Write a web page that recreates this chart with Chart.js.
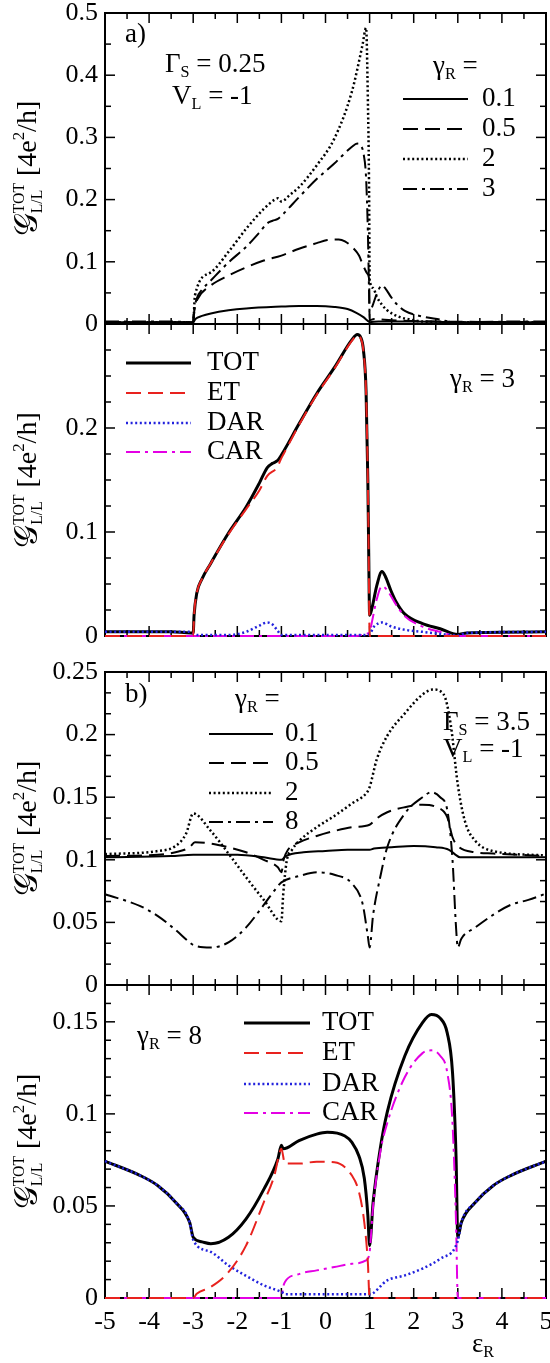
<!DOCTYPE html>
<html><head><meta charset="utf-8">
<script src="https://cdn.jsdelivr.net/npm/chart.js@4.4.1/dist/chart.umd.min.js"></script>
<style>
html,body{margin:0;padding:0;background:#fff;width:550px;height:1363px;overflow:hidden;position:relative}
canvas{position:absolute;left:0}
</style></head><body>
<canvas id="c1" width="550" height="345" style="top:0px"></canvas>
<canvas id="c2" width="550" height="336" style="top:314px"></canvas>
<canvas id="c3" width="550" height="345" style="top:655px"></canvas>
<canvas id="c4" width="550" height="388" style="top:975px"></canvas>
<script>
// ---------- tick labels ----------
const X_TICKS = [-5,-4,-3,-2,-1,0,1,2,3,4,5];
const A_YTICKS = [0,0.1,0.2,0.3,0.4,0.5];
const A2_YTICKS = [0,0.1,0.2];
const B_YTICKS = [0,0.05,0.1,0.15,0.2,0.25];
const B2_YTICKS = [0,0.05,0.1,0.15];

// ---------- panel a) : Gamma_S = 0.25, V_L = -1 ----------
const A_LABELS = ['0.1','0.5','2','3'];
const a_g01 = [[-5,0.003],[-3.05,0.003],[-3,0.003],[-2.95,0.008],[-2.8,0.013],[-2.6,0.017],[-2.2,0.022],[-1.8,0.025],[-1.0,0.028],[-0.6,0.029],[-0.2,0.029],[0.2,0.0275],[0.5,0.024],[0.7,0.018],[0.86,0.011],[0.96,0.005],[1.0,0.003],[1.2,0.004],[2,0.004],[3,0.003],[5,0.003]];
const a_g05 = [[-5,0.003],[-3,0.003],[-2.97,0.025],[-2.9,0.04],[-2.6,0.062],[-2.2,0.078],[-1.8,0.091],[-1.4,0.102],[-1.0,0.11],[-0.6,0.121],[-0.2,0.13],[0.04,0.135],[0.3,0.136],[0.44,0.133],[0.6,0.124],[0.76,0.11],[0.86,0.093],[0.96,0.08],[0.99,0.07],[1.0,0.006],[1.1,0.008],[1.5,0.006],[2.5,0.004],[5,0.003]];
const a_g2 = [[-5,0.003],[-3,0.003],[-2.96,0.046],[-2.6,0.083],[-2.2,0.116],[-1.8,0.153],[-1.4,0.185],[-1.15,0.2],[-1.08,0.202],[-1.0,0.197],[-0.8,0.208],[-0.6,0.22],[-0.2,0.255],[0.2,0.298],[0.6,0.374],[0.84,0.449],[0.92,0.476],[0.96,0.363],[0.99,0.2],[1.0,0.072],[1.08,0.058],[1.16,0.044],[1.28,0.031],[1.39,0.0225],[1.69,0.011],[1.9,0.0075],[2.2,0.004],[3,0.003],[5,0.003]];
const a_g3 = [[-5,0.004],[-3.5,0.004],[-3.05,0.003],[-3.0,0.003],[-2.98,0.02],[-2.92,0.041],[-2.8,0.055],[-2.6,0.07],[-2.2,0.099],[-1.8,0.124],[-1.5,0.147],[-1.32,0.162],[-1.2,0.166],[-1.08,0.169],[-1.0,0.174],[-0.6,0.204],[-0.2,0.233],[0.2,0.258],[0.6,0.285],[0.72,0.29],[0.8,0.287],[0.86,0.275],[0.92,0.235],[0.96,0.15],[0.98,0.08],[1.0,0.02],[1.06,0.028],[1.16,0.048],[1.28,0.062],[1.36,0.057],[1.48,0.044],[1.6,0.033],[1.8,0.021],[2.2,0.012],[2.6,0.007],[3.0,0.0015],[3.2,0.003],[5,0.004]];

// ---------- panel a) lower : gamma_R = 3 decomposition ----------
const PART_LABELS = ['TOT','ET','DAR','CAR'];
const a3_tot = a_g3;
const a3_et = [[-5,0],[-3,0],[-2.98,0.02],[-2.92,0.041],[-2.8,0.055],[-2.6,0.07],[-2.2,0.098],[-1.8,0.122],[-1.5,0.14],[-1.32,0.154],[-1.1,0.162],[-1.0,0.171],[-0.95,0.175],[-0.6,0.203],[-0.2,0.232],[0.2,0.257],[0.6,0.284],[0.72,0.289],[0.8,0.286],[0.86,0.274],[0.92,0.234],[0.96,0.149],[0.98,0.078],[1.0,0],[5,0]];
const a3_dar = [[-5,0.004],[-3.1,0.004],[-3.0,0.002],[-2.9,0.001],[-2.2,0.001],[-1.8,0.004],[-1.5,0.01],[-1.32,0.013],[-1.2,0.011],[-1.1,0.006],[-1.0,0.001],[0.9,0.001],[1.0,0.002],[1.1,0.009],[1.28,0.013],[1.5,0.009],[1.8,0.006],[2.2,0.004],[2.6,0.002],[3.0,0.0005],[3.2,0.003],[5,0.004]];
const a3_car = [[-5,0],[0.7,0],[0.9,0.002],[1.0,0.004],[1.06,0.015],[1.16,0.035],[1.28,0.048],[1.4,0.044],[1.6,0.03],[1.8,0.019],[2.2,0.009],[2.6,0.004],[3.0,0],[5,0]];

// ---------- panel b) : Gamma_S = 3.5, V_L = -1 ----------
const B_LABELS = ['0.1','0.5','2','8'];
const b_g01 = [[-5,0.102],[-3.5,0.103],[-3.0,0.104],[-2,0.104],[-1.4,0.102],[-1.0,0.1],[-0.9,0.103],[-0.5,0.106],[0,0.107],[0.5,0.108],[1.0,0.108],[1.1,0.109],[1.5,0.11],[2.0,0.111],[2.5,0.11],[2.8,0.108],[2.95,0.104],[3.05,0.102],[5,0.102]];
const b_g05 = [[-5,0.103],[-3.8,0.104],[-3.4,0.106],[-3.08,0.11],[-2.96,0.114],[-2.6,0.113],[-2.2,0.11],[-1.8,0.106],[-1.4,0.1],[-1.08,0.094],[-1.0,0.09],[-0.95,0.1],[-0.85,0.108],[-0.6,0.114],[-0.2,0.119],[0.2,0.123],[0.6,0.126],[1.0,0.128],[1.16,0.133],[1.4,0.138],[1.8,0.142],[2.2,0.144],[2.52,0.142],[2.76,0.134],[2.88,0.118],[3.0,0.111],[3.4,0.106],[3.8,0.105],[5,0.103]];
const b_g2 = [[-5,0.1045],[-3.8,0.107],[-3.4,0.111],[-3.16,0.121],[-3.0,0.137],[-2.6,0.123],[-2.2,0.105],[-1.8,0.086],[-1.4,0.068],[-1.0,0.051],[-0.96,0.072],[-0.88,0.099],[-0.76,0.108],[-0.6,0.115],[-0.2,0.126],[0.2,0.135],[0.6,0.145],[0.92,0.153],[1.0,0.158],[1.16,0.18],[1.4,0.199],[1.8,0.217],[2.2,0.232],[2.44,0.236],[2.68,0.232],[2.84,0.208],[3.0,0.16],[3.16,0.131],[3.4,0.115],[3.8,0.107],[5,0.1035]];
const b_g8 = [[-5,0.0725],[-4.2,0.063],[-3.8,0.055],[-3.4,0.044],[-3.08,0.034],[-3.0,0.032],[-2.6,0.03],[-2.2,0.034],[-1.8,0.046],[-1.4,0.064],[-1.08,0.079],[-1.0,0.082],[-0.6,0.087],[-0.2,0.09],[0.2,0.088],[0.6,0.081],[0.84,0.065],[0.96,0.039],[1.0,0.03],[1.08,0.056],[1.24,0.086],[1.4,0.11],[1.8,0.137],[2.2,0.15],[2.4,0.154],[2.6,0.15],[2.76,0.14],[2.88,0.1],[2.96,0.046],[3.0,0.03],[3.08,0.037],[3.4,0.046],[3.8,0.056],[4.2,0.064],[4.6,0.068],[5,0.073]];

// ---------- panel b) lower : gamma_R = 8 decomposition ----------
const b8_tot = [[-5,0.0743],[-4.2,0.0665],[-3.8,0.061],[-3.4,0.052],[-3.08,0.041],[-3.0,0.033],[-2.8,0.0305],[-2.6,0.0295],[-2.2,0.033],[-1.8,0.043],[-1.4,0.059],[-1.08,0.0755],[-1.0,0.083],[-0.96,0.081],[-0.6,0.0855],[-0.2,0.089],[0.04,0.09],[0.44,0.088],[0.6,0.0845],[0.76,0.077],[0.88,0.065],[0.96,0.045],[1.0,0.0285],[1.08,0.052],[1.24,0.081],[1.4,0.101],[1.8,0.1316],[2.2,0.1496],[2.4,0.154],[2.6,0.152],[2.76,0.144],[2.88,0.1225],[2.96,0.077],[3.0,0.033],[3.08,0.041],[3.4,0.052],[3.8,0.061],[4.2,0.0665],[5,0.0743]];
const b8_et = [[-5,0],[-3,0],[-2.92,0.0023],[-2.6,0.006],[-2.2,0.014],[-1.8,0.0286],[-1.4,0.052],[-1.16,0.0665],[-1.04,0.079],[-1.0,0.081],[-0.92,0.073],[-0.6,0.073],[-0.2,0.074],[0.2,0.0737],[0.6,0.0665],[0.76,0.0575],[0.88,0.041],[0.96,0.0195],[1.0,0],[5,0]];
const b8_dar = [[-5,0.0743],[-4.2,0.0665],[-3.8,0.061],[-3.4,0.052],[-3.08,0.041],[-3.0,0.0315],[-2.6,0.025],[-2.2,0.0177],[-1.8,0.012],[-1.4,0.0069],[-1.0,0.0033],[-0.9,0.002],[1.0,0.002],[1.4,0.0096],[1.8,0.0123],[2.2,0.016],[2.6,0.0213],[3.0,0.031],[3.08,0.041],[3.4,0.052],[3.8,0.061],[4.2,0.0665],[5,0.0743]];
const b8_car = [[-5,0],[-1.0,0],[-0.96,0.006],[-0.92,0.0087],[-0.6,0.013],[-0.2,0.015],[0.2,0.0168],[0.6,0.0186],[0.92,0.0204],[1.0,0.025],[1.08,0.05],[1.24,0.079],[1.4,0.095],[1.8,0.12],[2.2,0.133],[2.4,0.1345],[2.6,0.1316],[2.76,0.1226],[2.88,0.095],[2.96,0.041],[3.0,0],[5,0]];

// ---------- styles ----------
const FONT = '"Liberation Serif","Times New Roman",Times,"DejaVu Serif",serif';
const DASH = {solid:[], dashed:[15,7], dotted:[2,2.6], dashdot:[14,5,3,5]};
const RED = '#e8221e', BLUE = '#2222dd', MAG = '#e400e4';
const TXT = 27;

function pts(a){ return a.map(p=>({x:p[0],y:p[1]})); }
function ds(label, arr, color, dash, width, order){
  return {label, data:pts(arr), borderColor:color, borderDash:dash, borderWidth:width, clip:4,
          pointRadius:0, fill:false, cubicInterpolationMode:'monotone', order:order||0, borderCapStyle:'butt'};
}

function drawRich(ctx, runs, x, y, base, dry){
  let cx = x;
  ctx.textBaseline='middle'; ctx.textAlign='left'; ctx.fillStyle='#000';
  for (const r of runs){
    if (r.stack){
      ctx.font = (base*0.56)+'px '+FONT;
      const w = Math.max(ctx.measureText(r.stack[0]).width, ctx.measureText(r.stack[1]).width);
      if(!dry){ ctx.fillText(r.stack[0], cx, y-base*0.33); ctx.fillText(r.stack[1], cx, y+base*0.3); }
      cx += w; continue;
    }
    const s = base*((r.sub||r.sup)?0.6:1)*(r.scale||1);
    ctx.font = (r.italic?'italic ':'')+(r.bold?'bold ':'')+s+'px '+(r.family||FONT);
    const dy = r.sub? base*0.3 : r.sup? -base*0.33 : 0;
    if(!dry) ctx.fillText(r.t, cx, y+dy);
    cx += ctx.measureText(r.t).width;
  }
  return cx-x;
}
const YTITLE = [{t:'𝒢',scale:1.15},{stack:['TOT','L/L']},{t:' [4e'},{t:'2',sup:1},{t:'/h]'}];

const deco = {
  id:'deco',
  beforeDatasetsDraw(chart, args, o){
    const {ctx, chartArea:a, scales:{x,y}} = chart;
    ctx.save();
    ctx.strokeStyle='#000'; ctx.lineWidth=1.5; ctx.setLineDash([]);
    const seg=(x0,y0,x1,y1)=>{ctx.beginPath();ctx.moveTo(x0,y0);ctx.lineTo(x1,y1);ctx.stroke();};
    for(let k=0;k<=20;k++){
      const v=-5+k*0.5, px=x.getPixelForValue(v), L=(k%2===0)?10:6;
      seg(px,a.bottom,px,a.bottom-L); seg(px,a.top,px,a.top+L);
    }
    const nMin = Math.round(o.yMax/o.minor);
    for(let k=0;k<=nMin;k++){
      const v=k*o.minor, py=y.getPixelForValue(v);
      const isMaj = o.major.some(m=>Math.abs(m-v)<1e-6);
      const L = isMaj?10:6;
      seg(a.left,py,a.left+L,py); seg(a.right,py,a.right-L,py);
    }
    ctx.lineWidth=2;
    ctx.strokeRect(a.left,a.top,a.right-a.left,a.bottom-a.top);
    ctx.restore();
  },
  afterDraw(chart, args, o){
    const {ctx, chartArea:a} = chart;
    const off = o.top;
    ctx.save();
    const seg=(x0,y0,x1,y1)=>{ctx.beginPath();ctx.moveTo(x0,y0);ctx.lineTo(x1,y1);ctx.stroke();};
    const L = o.legend;
    chart.data.datasets.forEach((d,i)=>{
      const yy = L.ys[i]-off;
      ctx.strokeStyle=d.borderColor; ctx.lineWidth=d.borderWidth; ctx.setLineDash(d.borderDash||[]);
      seg(L.x0,yy,L.x1,yy);
      ctx.setLineDash([]);
      drawRich(ctx,[{t:d.label}],L.lx,yy,TXT);
    });
    for(const t of o.texts) drawRich(ctx,t.runs,t.x,t.y-off,t.size||TXT);
    ctx.save();
    const cy=(a.top+a.bottom)/2;
    ctx.translate(29,cy); ctx.rotate(-Math.PI/2);
    const w = drawRich(ctx,YTITLE,0,0,28,true);
    drawRich(ctx,YTITLE,-w/2,0,28);
    ctx.restore();
    ctx.restore();
  }
};

function build(id, o){
  const tickFont = {family:FONT, size:26};
  return new Chart(document.getElementById(id), {
    type:'line',
    data:{datasets:o.datasets},
    options:{
      responsive:false, animation:false, devicePixelRatio:1,
      layout:{padding:{top:o.padTop,left:0,right:4,bottom:0}},
      plugins:{legend:{display:false}, tooltip:{enabled:false},
        deco:{top:o.top, yMax:o.yMax, minor:o.minor, major:o.yTicks, legend:o.legend, texts:o.texts}},
      scales:{
        x:{type:'linear', min:-5, max:5,
           grid:{display:false, drawTicks:false}, border:{display:false},
           ticks:{display:o.showX, autoSkip:false, font:tickFont, color:'#000', padding:9, maxRotation:0, callback:v=>String(v)},
           afterBuildTicks:s=>{ s.ticks = X_TICKS.map(v=>({value:v})); },
           afterFit:s=>{ s.height=o.padBottom; s.paddingLeft=0; s.paddingRight=0; }},
        y:{type:'linear', min:0, max:o.yMax,
           grid:{display:false, drawTicks:false}, border:{display:false},
           ticks:{autoSkip:false, font:tickFont, color:'#000', padding:7, callback:v=>String(v)},
           afterBuildTicks:s=>{ s.ticks = o.yTicks.map(v=>({value:v})); },
           afterFit:s=>{ s.width=105; s.paddingTop=0; s.paddingBottom=0; }}
      }
    },
    plugins:[deco]
  });
}

const g = (t)=>[{t:'γ'},{t:'R',sub:1},{t:t}];

build('c1',{top:0, padTop:13, padBottom:21, yMax:0.5, minor:0.05, yTicks:A_YTICKS, showX:false,
  datasets:[ds(A_LABELS[0],a_g01,'#000',DASH.solid,2),ds(A_LABELS[1],a_g05,'#000',DASH.dashed,2),
            ds(A_LABELS[2],a_g2,'#000',DASH.dotted,2.5),ds(A_LABELS[3],a_g3,'#000',DASH.dashdot,2)],
  legend:{x0:403,x1:468,lx:482,ys:[99,129,159,189]},
  texts:[{x:125,y:35,runs:[{t:'a)'}]},
         {x:165,y:65,runs:[{t:'Γ'},{t:'S',sub:1},{t:' = 0.25'}]},
         {x:172,y:97,runs:[{t:'V'},{t:'L',sub:1},{t:' = -1'}]},
         {x:433,y:67,runs:g(' =')}]});

build('c2',{top:314, padTop:10, padBottom:14, yMax:0.3, minor:0.025, yTicks:A2_YTICKS, showX:false,
  datasets:[ds(PART_LABELS[0],a3_tot,'#000',DASH.solid,3,4),ds(PART_LABELS[1],a3_et,RED,DASH.dashed,2,1),
            ds(PART_LABELS[2],a3_dar,BLUE,DASH.dotted,2.5,2),ds(PART_LABELS[3],a3_car,MAG,DASH.dashdot,2,3)],
  legend:{x0:126,x1:191,lx:207,ys:[363,393,423,452]},
  texts:[{x:450,y:380,runs:g(' = 3')}]});

build('c3',{top:655, padTop:17, padBottom:15, yMax:0.25, minor:0.05/3, yTicks:B_YTICKS, showX:false,
  datasets:[ds(B_LABELS[0],b_g01,'#000',DASH.solid,2),ds(B_LABELS[1],b_g05,'#000',DASH.dashed,2),
            ds(B_LABELS[2],b_g2,'#000',DASH.dotted,2.5),ds(B_LABELS[3],b_g8,'#000',DASH.dashdot,2)],
  legend:{x0:209,x1:273,lx:285,ys:[734,763,793,822]},
  texts:[{x:125,y:695,runs:[{t:'b)'}]},
         {x:235,y:700,runs:g(' =')},
         {x:443,y:723,runs:[{t:'Γ'},{t:'S',sub:1},{t:' = 3.5'}]},
         {x:443,y:750,runs:[{t:'V'},{t:'L',sub:1},{t:' = -1'}]}]});

build('c4',{top:975, padTop:10, padBottom:65, yMax:0.17, minor:0.01, yTicks:B2_YTICKS, showX:true,
  datasets:[ds(PART_LABELS[0],b8_tot,'#000',DASH.solid,3,4),ds(PART_LABELS[1],b8_et,RED,DASH.dashed,2,1),
            ds(PART_LABELS[2],b8_dar,BLUE,DASH.dotted,2.5,2),ds(PART_LABELS[3],b8_car,MAG,DASH.dashdot,2,3)],
  legend:{x0:244,x1:310,lx:322,ys:[1023,1053,1084,1113]},
  texts:[{x:137,y:1037,runs:g(' = 8')},
         {x:472,y:1345,runs:[{t:'ε'},{t:'R',sub:1}]}]});
</script>
</body></html>
